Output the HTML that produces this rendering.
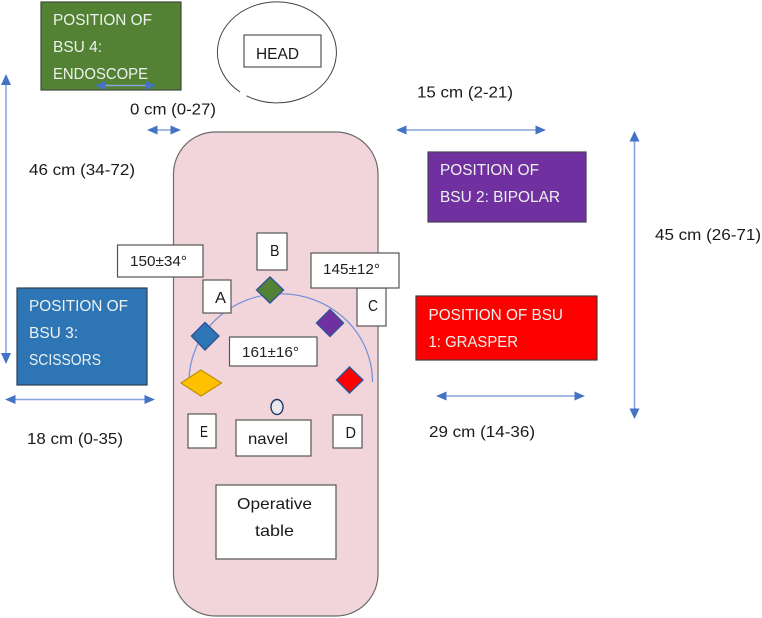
<!DOCTYPE html>
<html>
<head>
<meta charset="utf-8">
<style>
html,body{margin:0;padding:0;background:#fff;width:762px;height:618px;overflow:hidden}
svg{display:block;filter:blur(0.35px)}
text{font-family:"Liberation Sans",sans-serif;font-size:16px;fill:#1a1a1a}
.w{fill:#eef2ee}
.s{font-size:15px;fill:#222}
.b{stroke:#555;stroke-width:1.2;fill:#fff}
.l{stroke:#86a5dc;stroke-width:1.6;fill:none}
.h{fill:#4472c4}
</style>
</head>
<body>
<svg width="762" height="618" viewBox="0 0 762 618" xmlns="http://www.w3.org/2000/svg">
<!-- table -->
<rect x="173.5" y="132" width="204.5" height="484" rx="42" ry="42" fill="#f2d5da" stroke="#6b6b6b" stroke-width="1.2"/>

<!-- head -->
<path d="M246.500 95.800 A59.5 50.5 0 1 0 240 92" fill="#fff" stroke="#444" stroke-width="1"/>
<rect x="244" y="35" width="77" height="32" class="b"/>
<text x="256" y="59" textLength="43" lengthAdjust="spacingAndGlyphs">HEAD</text>

<!-- BSU boxes -->
<rect x="41" y="2" width="140" height="88" fill="#548235" stroke="#3f4a38" stroke-width="1.2"/>
<text class="w" x="53" y="25" textLength="99" lengthAdjust="spacingAndGlyphs">POSITION OF</text>
<text class="w" x="53" y="52" textLength="49" lengthAdjust="spacingAndGlyphs">BSU 4:</text>
<text class="w" x="53" y="79" textLength="95" lengthAdjust="spacingAndGlyphs">ENDOSCOPE</text>

<rect x="428" y="152" width="158" height="70" fill="#7030a0" stroke="#4a4058" stroke-width="1.2"/>
<text class="w" x="440" y="175" textLength="99" lengthAdjust="spacingAndGlyphs">POSITION OF</text>
<text class="w" x="440" y="202" textLength="120" lengthAdjust="spacingAndGlyphs">BSU 2: BIPOLAR</text>

<rect x="416" y="296" width="181" height="64" fill="#ff0000" stroke="#4a3a3a" stroke-width="1.2"/>
<text class="w" x="428.5" y="320" textLength="134.5" lengthAdjust="spacingAndGlyphs">POSITION OF BSU</text>
<text class="w" x="428.5" y="347" textLength="89.5" lengthAdjust="spacingAndGlyphs">1: GRASPER</text>

<rect x="17" y="288" width="130" height="97" fill="#2e75b6" stroke="#2f3f50" stroke-width="1.2"/>
<text class="w" x="29" y="311" textLength="99" lengthAdjust="spacingAndGlyphs">POSITION OF</text>
<text class="w" x="29" y="338" textLength="49" lengthAdjust="spacingAndGlyphs">BSU 3:</text>
<text class="w" x="29" y="365" textLength="72" lengthAdjust="spacingAndGlyphs">SCISSORS</text>

<!-- arc -->
<path d="M189 381 A91 87 0 0 1 372.5 382" fill="none" stroke="#6f8fd6" stroke-width="1.2"/>

<!-- label boxes -->
<rect x="357" y="288" width="29" height="38" class="b"/>
<rect x="311" y="253" width="88" height="35" class="b"/>
<rect x="117.500" y="245" width="85.500" height="32" class="b"/>
<rect x="257" y="233" width="30" height="37" class="b"/>
<rect x="203" y="280" width="28" height="33" class="b"/>
<rect x="229.500" y="337" width="87.500" height="29" class="b"/>
<rect x="236" y="420" width="75" height="36" class="b"/>
<rect x="188" y="414" width="28" height="34" class="b"/>
<rect x="333" y="415" width="29" height="33" class="b"/>
<rect x="216" y="485" width="120" height="74" class="b"/>

<text x="270" y="256" textLength="9.500" lengthAdjust="spacingAndGlyphs">B</text>
<text x="215" y="303" textLength="11" lengthAdjust="spacingAndGlyphs">A</text>
<text x="368" y="311" textLength="10" lengthAdjust="spacingAndGlyphs">C</text>
<text x="200" y="437" textLength="8" lengthAdjust="spacingAndGlyphs">E</text>
<text x="345.500" y="438" textLength="10.500" lengthAdjust="spacingAndGlyphs">D</text>
<text x="248" y="444" textLength="40" lengthAdjust="spacingAndGlyphs">navel</text>
<text x="237" y="509" textLength="75" lengthAdjust="spacingAndGlyphs">Operative</text>
<text x="255" y="536" textLength="39" lengthAdjust="spacingAndGlyphs">table</text>
<text class="s" x="130" y="266" textLength="57" lengthAdjust="spacingAndGlyphs">150±34°</text>
<text class="s" x="323" y="274" textLength="57" lengthAdjust="spacingAndGlyphs">145±12°</text>
<text class="s" x="242" y="357" textLength="57" lengthAdjust="spacingAndGlyphs">161±16°</text>

<!-- diamonds -->
<polygon points="270,277 283.500,290 270,303 256.500,290" fill="#548235" stroke="#2f5597" stroke-width="1.4"/>
<polygon points="205,322.500 219,336 205,350 191.500,336" fill="#2e75b6" stroke="#2f5597" stroke-width="1.4"/>
<polygon points="330,309.500 343.500,323 330,336.500 316.500,323" fill="#7030a0" stroke="#2f5597" stroke-width="1.4"/>
<polygon points="349.500,367 363,380 349.500,393 336.500,380" fill="#ff0000" stroke="#2f5597" stroke-width="1.4"/>
<polygon points="201,370 221.500,383 201,396 181,383" fill="#ffc000" stroke="#bf9000" stroke-width="1.2"/>
<ellipse cx="277" cy="407" rx="6" ry="7.500" fill="#e9e9ec" stroke="#1f3864" stroke-width="1.4"/>

<!-- arrows -->
<line x1="6" y1="82" x2="6" y2="356" class="l"/>
<polygon class="h" points="6,74 1,85 11,85"/>
<polygon class="h" points="6,364 1,353 11,353"/>

<line x1="634.500" y1="140" x2="634.500" y2="410" class="l"/>
<polygon class="h" points="634.500,131 629.500,141.500 639.500,141.500"/>
<polygon class="h" points="634.500,419 629.500,408.500 639.500,408.500"/>

<line x1="100" y1="85.500" x2="150" y2="85.500" class="l"/>
<polygon class="h" points="95,85.500 105.500,81 105.500,90"/>
<polygon class="h" points="156,85.500 145.500,81 145.500,90"/>

<line x1="152" y1="130" x2="176" y2="130" class="l"/>
<polygon class="h" points="147,130 157.500,125.500 157.500,134.500"/>
<polygon class="h" points="181,130 170.500,125.500 170.500,134.500"/>

<line x1="402" y1="130" x2="540" y2="130" class="l"/>
<polygon class="h" points="396,130 406.500,125.500 406.500,134.500"/>
<polygon class="h" points="546,130 535.500,125.500 535.500,134.500"/>

<line x1="11" y1="399.500" x2="149" y2="399.500" class="l"/>
<polygon class="h" points="5,399.500 15.500,395 15.500,404"/>
<polygon class="h" points="155,399.500 144.500,395 144.500,404"/>

<line x1="442" y1="396" x2="579" y2="396" class="l"/>
<polygon class="h" points="436,396 446.500,391.500 446.500,400.500"/>
<polygon class="h" points="585,396 574.500,391.500 574.500,400.500"/>

<!-- measurements -->
<text x="130" y="114.500" textLength="86" lengthAdjust="spacingAndGlyphs">0 cm (0-27)</text>
<text x="29" y="175" textLength="106" lengthAdjust="spacingAndGlyphs">46 cm (34-72)</text>
<text x="417" y="97.500" textLength="96" lengthAdjust="spacingAndGlyphs">15 cm (2-21)</text>
<text x="655" y="240" textLength="106" lengthAdjust="spacingAndGlyphs">45 cm (26-71)</text>
<text x="27" y="444" textLength="96" lengthAdjust="spacingAndGlyphs">18 cm (0-35)</text>
<text x="429" y="437" textLength="106" lengthAdjust="spacingAndGlyphs">29 cm (14-36)</text>
</svg>
</body>
</html>
